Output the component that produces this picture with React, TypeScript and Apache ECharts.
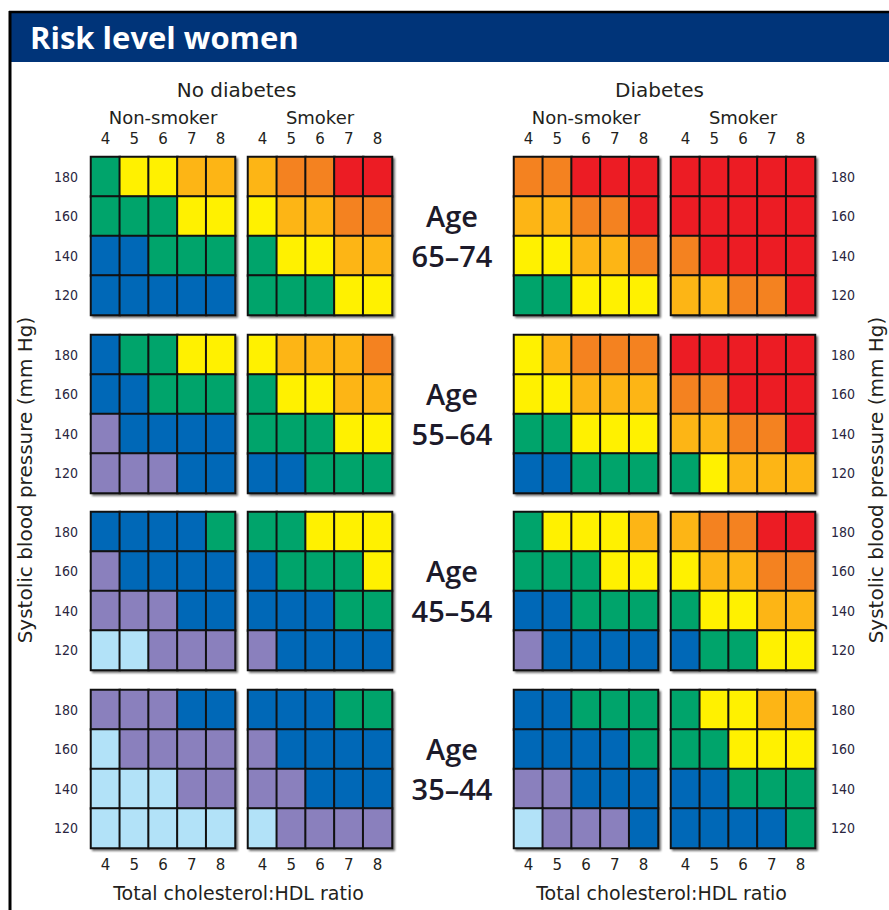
import React, { useEffect, useRef } from "react";
import * as echarts from "echarts";

const X_LABELS = ["4", "5", "6", "7", "8"];
const Y_LABELS = ["120", "140", "160", "180"];
const AGE_GROUPS = ["65–74", "55–64", "45–54", "35–44"];
const GROUP_HEADERS = ["No diabetes", "Diabetes"];
const SMOKING_HEADERS = ["Non-smoker", "Smoker", "Non-smoker", "Smoker"];
const X_TITLE = "Total cholesterol:HDL ratio";
const Y_TITLE = "Systolic blood pressure (mm Hg)";
const TITLE = "Risk level women";

// risk level colours, lowest to highest
const RISK_COLORS = ["#b2e2f8", "#8a80bd", "#0068b7", "#00a46b", "#fff100", "#fdb515", "#f48220", "#ec1c24"];

// each panel: rows from SBP 180 (top) down to 120, columns ratio 4..8
const age65NoDiabNonSmoker = [[3, 4, 4, 5, 5], [3, 3, 3, 4, 4], [2, 2, 3, 3, 3], [2, 2, 2, 2, 2]];
const age65NoDiabSmoker = [[5, 6, 6, 7, 7], [4, 5, 5, 6, 6], [3, 4, 4, 5, 5], [3, 3, 3, 4, 4]];
const age65DiabNonSmoker = [[6, 6, 7, 7, 7], [5, 5, 6, 6, 7], [4, 4, 5, 5, 6], [3, 3, 4, 4, 4]];
const age65DiabSmoker = [[7, 7, 7, 7, 7], [7, 7, 7, 7, 7], [6, 7, 7, 7, 7], [5, 5, 6, 6, 7]];

const age55NoDiabNonSmoker = [[2, 3, 3, 4, 4], [2, 2, 3, 3, 3], [1, 2, 2, 2, 2], [1, 1, 1, 2, 2]];
const age55NoDiabSmoker = [[4, 5, 5, 5, 6], [3, 4, 4, 5, 5], [3, 3, 3, 4, 4], [2, 2, 3, 3, 3]];
const age55DiabNonSmoker = [[4, 5, 6, 6, 6], [4, 4, 5, 5, 5], [3, 3, 4, 4, 4], [2, 2, 3, 3, 3]];
const age55DiabSmoker = [[7, 7, 7, 7, 7], [6, 6, 7, 7, 7], [5, 5, 6, 6, 7], [3, 4, 5, 5, 5]];

const age45NoDiabNonSmoker = [[2, 2, 2, 2, 3], [1, 2, 2, 2, 2], [1, 1, 1, 2, 2], [0, 0, 1, 1, 1]];
const age45NoDiabSmoker = [[3, 3, 4, 4, 4], [2, 3, 3, 3, 4], [2, 2, 2, 3, 3], [1, 2, 2, 2, 2]];
const age45DiabNonSmoker = [[3, 4, 4, 4, 5], [3, 3, 3, 4, 4], [2, 2, 3, 3, 3], [1, 2, 2, 2, 2]];
const age45DiabSmoker = [[5, 6, 6, 7, 7], [4, 5, 5, 6, 6], [3, 4, 4, 5, 5], [2, 3, 3, 4, 4]];

const age35NoDiabNonSmoker = [[1, 1, 1, 2, 2], [0, 1, 1, 1, 1], [0, 0, 0, 1, 1], [0, 0, 0, 0, 0]];
const age35NoDiabSmoker = [[2, 2, 2, 3, 3], [1, 2, 2, 2, 2], [1, 1, 2, 2, 2], [0, 1, 1, 1, 1]];
const age35DiabNonSmoker = [[2, 2, 3, 3, 3], [2, 2, 2, 2, 3], [1, 1, 2, 2, 2], [0, 1, 1, 1, 2]];
const age35DiabSmoker = [[3, 4, 4, 5, 5], [3, 3, 4, 4, 4], [2, 2, 3, 3, 3], [2, 2, 2, 2, 3]];

const PANELS = [
  [age65NoDiabNonSmoker, age65NoDiabSmoker, age65DiabNonSmoker, age65DiabSmoker],
  [age55NoDiabNonSmoker, age55NoDiabSmoker, age55DiabNonSmoker, age55DiabSmoker],
  [age45NoDiabNonSmoker, age45NoDiabSmoker, age45DiabNonSmoker, age45DiabSmoker],
  [age35NoDiabNonSmoker, age35NoDiabSmoker, age35DiabNonSmoker, age35DiabSmoker],
];

const FONT = "'DejaVu Sans', sans-serif";
const TITLE_FONT = "'Open Sans', sans-serif";
const NARROW_FONT = "'Liberation Sans Narrow', 'DejaVu Sans Condensed', sans-serif";
const COL_LEFT = [91, 248, 514, 671];
const ROW_TOP = [157, 335, 512, 690];
const PANEL_W = 144;
const PANEL_H = 158;
const TEXT_COLOR = "#231f20";

export default function App() {
  const ref = useRef<HTMLDivElement>(null);

  useEffect(() => {
    if (!ref.current) return;
    const chart = echarts.init(ref.current, null, { renderer: "svg" });

    const grids: any[] = [];
    const xAxes: any[] = [];
    const yAxes: any[] = [];
    const series: any[] = [];

    for (let r = 0; r < 4; r++) {
      for (let c = 0; c < 4; c++) {
        const idx = r * 4 + c;
        grids.push({
          left: COL_LEFT[c],
          top: ROW_TOP[r],
          width: PANEL_W,
          height: PANEL_H,
          show: true,
          backgroundColor: "#000",
          borderColor: "#000",
          borderWidth: 2,
          shadowColor: "rgba(0,0,0,0.55)",
          shadowBlur: 2,
          shadowOffsetX: 2,
          shadowOffsetY: 2,
        });
        const labelX = r === 0 || r === 3;
        xAxes.push({
          gridIndex: idx,
          type: "category",
          data: X_LABELS,
          position: r === 0 ? "top" : "bottom",
          axisLine: { show: false },
          axisTick: { show: false },
          splitLine: { show: false },
          axisLabel: {
            show: labelX,
            margin: r === 0 ? 11 : 9,
            fontSize: 15,
            fontFamily: FONT,
            color: TEXT_COLOR,
          },
        });
        const labelY = c === 0 || c === 3;
        yAxes.push({
          gridIndex: idx,
          type: "category",
          data: Y_LABELS,
          position: c === 3 ? "right" : "left",
          axisLine: { show: false },
          axisTick: { show: false },
          splitLine: { show: false },
          axisLabel: {
            show: labelY,
            margin: c === 3 ? 16 : 13,
            fontSize: 14,
            fontFamily: NARROW_FONT,
            color: "#2a2540",
          },
        });
        const rows = PANELS[r][c];
        const data: number[][] = [];
        rows.forEach((row, i) => {
          row.forEach((v, j) => {
            data.push([j, Y_LABELS.length - 1 - i, v]);
          });
        });
        series.push({
          type: "heatmap",
          xAxisIndex: idx,
          yAxisIndex: idx,
          data,
          itemStyle: { borderColor: "#111", borderWidth: 2 },
          emphasis: { disabled: true },
          label: { show: false },
        });
      }
    }

    const graphic: any[] = [
      { type: "rect", shape: { x: 10, y: 12, width: 879, height: 50 }, style: { fill: "#003479" }, z: 10 },
      { type: "line", shape: { x1: 9, y1: 12, x2: 889, y2: 12 }, style: { stroke: "#000", lineWidth: 2.5 }, z: 11 },
      { type: "line", shape: { x1: 10, y1: 11, x2: 10, y2: 910 }, style: { stroke: "#000", lineWidth: 3 }, z: 11 },
      {
        type: "text",
        x: 30,
        y: 37,
        z: 12,
        style: {
          text: TITLE,
          fill: "#fff",
          font: `bold 31px ${TITLE_FONT}`,
          textVerticalAlign: "middle",
        },
      },
    ];

    const groupCenters = [
      (COL_LEFT[0] + COL_LEFT[1] + PANEL_W) / 2,
      (COL_LEFT[2] + COL_LEFT[3] + PANEL_W) / 2,
    ];
    GROUP_HEADERS.forEach((t, i) => {
      graphic.push({
        type: "text",
        x: groupCenters[i] - 5,
        y: 90,
        style: { text: t, fill: TEXT_COLOR, font: `20px ${FONT}`, textAlign: "center", textVerticalAlign: "middle" },
      });
      graphic.push({
        type: "text",
        x: groupCenters[i] - 3,
        y: 893,
        style: { text: X_TITLE, fill: TEXT_COLOR, font: `19px ${FONT}`, textAlign: "center", textVerticalAlign: "middle" },
      });
    });
    SMOKING_HEADERS.forEach((t, c) => {
      graphic.push({
        type: "text",
        x: COL_LEFT[c] + PANEL_W / 2,
        y: 117,
        style: { text: t, fill: TEXT_COLOR, font: `18px ${FONT}`, textAlign: "center", textVerticalAlign: "middle" },
      });
    });
    AGE_GROUPS.forEach((a, r) => {
      const cy = ROW_TOP[r] + PANEL_H / 2;
      graphic.push({
        type: "text",
        x: 452,
        y: cy - 21,
        style: { text: "Age", fill: "#1c1a2a", font: `600 29px ${TITLE_FONT}`, textAlign: "center", textVerticalAlign: "middle" },
      });
      graphic.push({
        type: "text",
        x: 452,
        y: cy + 19,
        style: { text: a, fill: "#1c1a2a", font: `600 29px ${TITLE_FONT}`, textAlign: "center", textVerticalAlign: "middle" },
      });
    });
    [25, 876].forEach((x) => {
      graphic.push({
        type: "text",
        x,
        y: 480,
        rotation: Math.PI / 2,
        style: { text: Y_TITLE, fill: TEXT_COLOR, font: `20px ${FONT}`, textAlign: "center", textVerticalAlign: "middle" },
      });
    });

    chart.setOption({
      animation: false,
      backgroundColor: "#fff",
      grid: grids,
      xAxis: xAxes,
      yAxis: yAxes,
      visualMap: {
        show: false,
        type: "piecewise",
        dimension: 2,
        pieces: RISK_COLORS.map((color, i) => ({ value: i, color })),
      },
      series,
      graphic,
    });

    return () => chart.dispose();
  }, []);

  return (
    <div
      ref={ref}
      style={{ position: "fixed", left: 0, top: 0, width: 889, height: 910 }}
    />
  );
}
